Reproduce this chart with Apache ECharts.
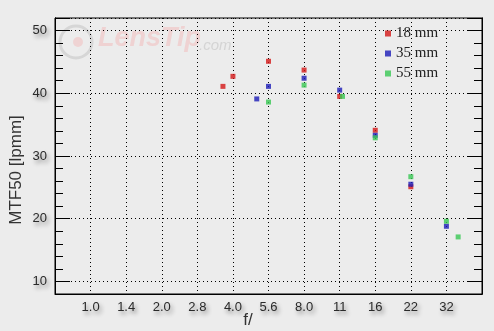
<!DOCTYPE html>
<html>
<head>
<meta charset="utf-8">
<script src="https://cdn.jsdelivr.net/npm/echarts@6/dist/echarts.min.js"></script>
<style>
html,body{margin:0;padding:0;background:#ececec;}
#c{width:494px;height:331px;}
</style>
</head>
<body>
<div id="c"></div>
<script>
// X tick labels (f-numbers), one per full stop starting at f/1.0 (stop 0)
var xLabels = ['1.0', '1.4', '2.0', '2.8', '4.0', '5.6', '8.0', '11', '16', '22', '32'];
// Y tick labels
var yLabels = [10, 20, 30, 40, 50];

var seriesNames = ['18 mm', '35 mm', '55 mm'];
// x positions in stops from f/1.0 (as read on the axis), y = MTF50 [lpmm]
var stops18 = [3.72, 4, 5, 6, 7, 8, 9];
var mtf18   = [41.1, 42.7, 45.1, 43.7, 39.5, 34.1, 25.1];
var stops35 = [4.67, 5, 6, 7, 8, 9, 10];
var mtf35   = [39.1, 41.1, 42.4, 40.5, 33.3, 25.5, 18.8];
var stops55 = [5, 6, 7.08, 8, 9, 10, 10.33];
var mtf55   = [38.6, 41.3, 39.5, 32.9, 26.7, 19.6, 17.1];

function pairs(xs, ys) { return xs.map(function (x, i) { return [x, ys[i]]; }); }

var shadow = {
  textShadowColor: 'rgba(0,0,0,0.45)',
  textShadowBlur: 4,
  textShadowOffsetX: 2,
  textShadowOffsetY: 3
};

var chart = echarts.init(document.getElementById('c'), null, {renderer: 'canvas'});

function yAxisDef(pos, major) {
  return {
    type: 'value',
    position: pos,
    min: 8, max: 52,
    interval: major ? undefined : 2,
    splitNumber: 5,
    axisLine: {show: true, onZero: false, lineStyle: {color: '#000', width: 1}},
    axisTick: {show: true, inside: true, length: major ? 15 : 8, lineStyle: {color: '#000', width: 1}},
    axisLabel: (major && pos === 'left') ? Object.assign({
      show: true, margin: 8, color: '#2a2a2a', fontSize: 13, fontFamily: 'Liberation Sans',
      formatter: function (v) { return yLabels.indexOf(v) >= 0 ? String(v) : ''; }
    }, shadow) : {show: false},
    splitLine: (major && pos === 'left') ? {show: true, lineStyle: {color: '#000', width: 1, type: [1, 3]}} : {show: false}
  };
}

var option = {
  backgroundColor: '#ececec',
  animation: false,
  grid: {left: 55, right: 12, top: 18, bottom: 37, show: true, borderColor: '#000', borderWidth: 1, backgroundColor: 'transparent'},
  xAxis: {
    type: 'value',
    min: -1, max: 11, interval: 1,
    axisLine: {show: true, onZero: false, lineStyle: {color: '#000', width: 1}},
    axisTick: {show: false},
    axisLabel: Object.assign({
      margin: 7, color: '#2a2a2a', fontSize: 13, fontFamily: 'Liberation Sans',
      formatter: function (v) { return xLabels[v] !== undefined ? xLabels[v] : ''; }
    }, shadow),
    splitLine: {show: true, lineStyle: {color: '#000', width: 1, type: [1, 3]}}
  },
  yAxis: [yAxisDef('left', true), yAxisDef('left', false), yAxisDef('right', true), yAxisDef('right', false)],
  legend: {
    orient: 'vertical',
    left: 380, top: 21,
    itemWidth: 6, itemHeight: 6, itemGap: 5,
    icon: 'rect',
    textStyle: {fontFamily: 'Liberation Serif', fontSize: 15, color: '#222'},
    data: seriesNames
  },
  graphic: [
    {type: 'circle', shape: {cx: 76, cy: 42, r: 16}, style: {fill: 'none', stroke: '#d6d6d6', lineWidth: 3}, z: 0},
    {type: 'circle', shape: {cx: 78, cy: 42, r: 5}, style: {fill: '#efd3d3'}, z: 0},
    {type: 'text', x: 98, y: 52, style: {text: 'LensTip', fill: '#efd2d2', font: 'italic bold 27px "Liberation Sans"', textVerticalAlign: 'bottom'}, z: 0},
    {type: 'text', x: 199, y: 53, style: {text: '.com', fill: '#d4d4d4', font: 'italic 15px "Liberation Sans"', textVerticalAlign: 'bottom'}, z: 0},
    {type: 'text', x: 16, y: 170, rotation: Math.PI / 2,
     style: {text: 'MTF50 [lpmm]', fill: '#333', font: '17px "Liberation Sans"', textAlign: 'center', textVerticalAlign: 'middle',
       shadowColor: 'rgba(0,0,0,0.35)', shadowBlur: 4, shadowOffsetX: 2, shadowOffsetY: 2}},
    {type: 'text', x: 248, y: 320,
     style: {text: 'f/', fill: '#333', font: '17px "Liberation Sans"', textAlign: 'center', textVerticalAlign: 'middle',
       shadowColor: 'rgba(0,0,0,0.35)', shadowBlur: 4, shadowOffsetX: 2, shadowOffsetY: 2}}
  ],
  series: [
    {name: seriesNames[0], type: 'scatter', symbol: 'rect', symbolSize: 5, itemStyle: {color: '#d41818'}, data: pairs(stops18, mtf18), z: 3},
    {name: seriesNames[1], type: 'scatter', symbol: 'rect', symbolSize: 5, itemStyle: {color: '#1c1cb8'}, data: pairs(stops35, mtf35), z: 4},
    {name: seriesNames[2], type: 'scatter', symbol: 'rect', symbolSize: 5, itemStyle: {color: '#38c854'}, data: pairs(stops55, mtf55), z: 5}
  ]
};
chart.setOption(option);
</script>
</body>
</html>
